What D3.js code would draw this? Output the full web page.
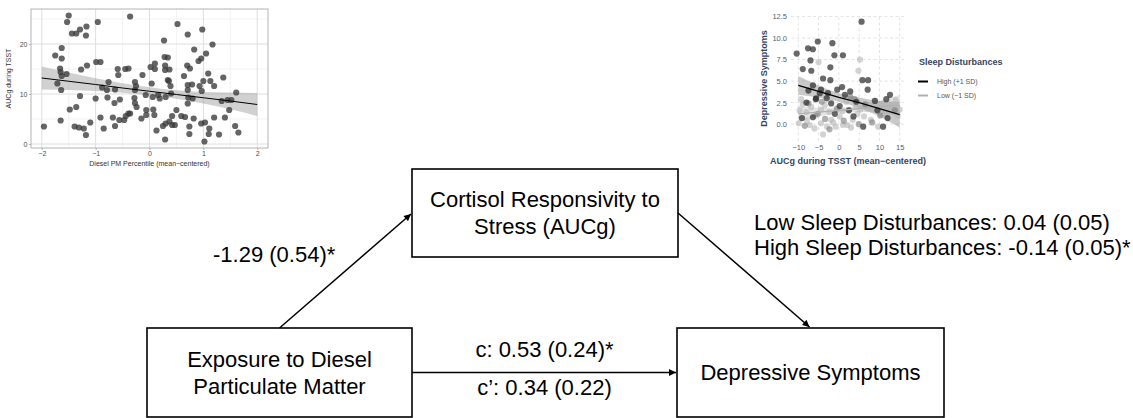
<!DOCTYPE html>
<html>
<head>
<meta charset="utf-8">
<script src="https://cdn.jsdelivr.net/npm/d3@7"></script>
<style>
  html, body { margin: 0; padding: 0; background: #fff; }
  svg { display: block; font-family: "Liberation Sans", Arial, Helvetica, sans-serif; }
</style>
</head>
<body>
<div id="chart"></div>
<script>
// ---- left scatter: diesel PM vs AUCg ----
var dieselX = [-1.96,-1.75,-1.71,-1.63,-1.63,-1.66,-1.65,-1.63,-1.64,-1.65,-1.54,-1.53,-1.50,-1.48,-1.44,-1.36,-1.36,-1.39,-1.29,-1.29,
  -1.31,-1.27,-1.17,-1.18,-1.16,-1.22,-1.18,-1.10,-0.99,-0.91,-0.96,-1.00,-0.91,-0.88,-0.85,-0.79,-0.76,-0.78,-0.68,-0.65,
  -0.64,-0.64,-0.59,-0.58,-0.56,-0.55,-0.47,-0.45,-0.39,-0.36,-0.44,-0.39,-0.36,-0.28,-0.27,-0.25,-0.27,-0.27,-0.24,-0.15,
  -0.13,-0.07,-0.06,-0.06,0.02,0.04,0.06,0.07,0.10,0.10,0.09,0.13,0.16,0.19,0.25,0.27,0.28,0.29,0.29,0.30,
  0.30,0.29,0.34,0.34,0.36,0.37,0.37,0.39,0.40,0.42,0.47,0.42,0.50,0.52,0.59,0.64,0.66,0.71,0.70,0.71,
  0.71,0.72,0.71,0.75,0.74,0.74,0.79,0.80,0.82,0.83,0.91,0.93,0.98,0.96,0.97,1.00,0.96,1.02,1.03,1.05,
  1.09,1.10,1.11,1.13,1.17,1.20,1.20,1.29,1.37,1.40,1.45,1.48,1.52,1.59,1.61,1.65,1.34];
var aucgY = [3.5,17.7,12.1,19.2,17.1,15.1,14.4,13.6,10.8,4.7,14.0,24.4,25.7,6.9,22.1,22.1,7.4,3.5,22.9,9.6,
  3.3,14.9,23.5,21.7,15.7,3.1,1.8,4.3,16.4,16.4,24.4,9.1,5.3,11.3,3.1,10.8,12.4,9.3,5.3,8.2,
  10.9,3.6,15.0,13.8,4.8,8.9,4.8,15.0,15.1,25.5,5.6,6.1,6.1,9.2,12.4,11.6,10.8,8.2,7.4,5.1,
  13.8,9.8,6.8,5.8,15.4,12.1,9.4,6.9,16.1,15.0,5.8,2.7,9.8,9.1,3.6,20.7,17.4,15.7,14.8,9.4,
  4.1,0.9,17.3,12.8,12.6,14.9,4.5,11.6,10.1,3.8,3.8,5.6,6.8,24.0,5.6,13.6,5.4,21.9,15.7,11.8,
  10.8,9.3,8.1,15.1,3.5,2.0,11.9,9.1,5.1,18.9,16.6,11.6,22.9,17.1,10.6,12.6,4.1,0.5,4.3,18.1,
  14.1,2.0,3.1,12.6,19.9,11.6,5.3,1.9,13.3,5.3,8.8,6.8,8.8,3.6,10.3,2.3,8.6];
var leftFitX = [-2, -1.5, -1, -0.5, 0, 0.5, 1, 1.5, 2];
var leftFit  = [13.2, 12.55, 11.9, 11.2, 10.55, 9.9, 9.25, 8.6, 7.9];
var leftLo   = [10.9, 10.8, 10.6, 10.25, 9.75, 9.05, 8.1, 6.95, 5.6];
var leftHi   = [15.5, 14.3, 13.15, 12.15, 11.35, 10.75, 10.4, 10.3, 10.2];
var leftXTicks = [-2, -1, 0, 1, 2];
var leftYTicks = [0, 10, 20];

// ---- right scatter: AUCg vs depressive symptoms by sleep disturbances ----
var highPts = [[-10.4,8.2],[-7.6,8.8],[-6.4,8.7],[-7.0,7.4],[-6.8,6.2],[-8.9,6.4],[-5.2,9.6],[-1.6,9.4],[-1.1,8.0],[1.0,8.0],
  [-2.1,6.6],[-3.9,5.3],[-2.1,5.1],[-6.4,4.5],[-7.5,3.9],[5.6,11.9],[5.8,5.1],[7.2,5.1],[7.1,4.0],[2.8,3.8],
  [0.8,4.3],[-0.4,4.0],[-4.4,4.0],[-2.7,3.6],[-5.6,3.0],[12.6,3.4],[11.7,2.9],[8.9,2.7],[4.3,2.6],[12.0,0.7],
  [10.9,-0.3],[6.0,-0.3],[-9.1,0.7],[-6.4,0.8],[-1.9,2.4],[0.2,2.1],[2.5,1.6],[-4.7,3.6],[-5.7,2.9],[-3.0,3.0],
  [1.5,3.4],[-8.0,2.5],[-1.0,1.2],[3.6,0.9],[9.5,1.6]];
var midPts = [[-7.5,2.4],[-5.2,1.2],[-3.4,0.6],[-0.5,1.8],[1.2,0.4],[3.9,2.9],[6.5,2.3],[8.2,0.2],[10.2,1.0],[-8.4,-0.2],
  [-2.3,-0.6],[4.9,0.0],[2.8,3.2],[-4.2,2.6],[13.8,1.6]];
var lowPts = [[-5.0,7.2],[5.2,7.5],[4.8,6.2],[-3.9,-1.2],[9.7,-0.3],[14.0,2.8],[15.0,1.7],[-8.9,2.3],[-9.7,1.6],[-8.0,1.4],
  [-9.9,0.1],[-7.2,-0.1],[-4.4,0.1],[-2.9,-0.3],[-0.8,-0.3],[1.0,-0.1],[2.1,-0.1],[3.4,0.5],[7.9,0.5],[4.6,1.2],
  [-6.8,2.0],[-4.4,1.7],[1.8,2.6],[4.2,2.0],[2.4,1.6],[-1.9,0.5],[0.2,0.9],[6.2,0.9],[8.7,2.7],[10.9,2.4],
  [13.0,2.0],[11.5,1.2],[-3.5,2.2],[-5.8,1.0],[-7.9,0.4],[0.9,1.5],[-2.4,1.4],[5.3,1.7],[7.0,1.8],[12.5,1.5],
  [-6.0,-0.5],[-1.4,0.2],[3.0,-0.4],[-9.3,2.9],[14.5,1.0]];
var fitAuc  = [-10, -5, 0, 5, 10, 15];
var highFit = [4.5, 3.8, 3.1, 2.5, 1.8, 1.1];
var highLo  = [3.4, 3.1, 2.6, 1.9, 0.9, -0.4];
var highHi  = [5.6, 4.5, 3.6, 3.1, 2.7, 2.6];
var lowFit  = [1.2, 1.4, 1.6, 1.8, 2.0, 2.2];
var lowLo   = [0.3, 0.9, 1.3, 1.4, 1.3, 1.0];
var lowHi   = [2.1, 1.9, 1.9, 2.2, 2.7, 3.4];
var rightXTicks = [-10, -5, 0, 5, 10, 15];
var rightYTicks = [0, 2.5, 5, 7.5, 10, 12.5];
var legendLabels = ["High (+1 SD)", "Low (\u22121 SD)"];

// ---- mediation diagram ----
var nodeLabels = {
  x: ["Exposure to Diesel", "Particulate Matter"],
  m: ["Cortisol Responsivity to", "Stress (AUCg)"],
  y: ["Depressive Symptoms"]
};
var pathA = "-1.29 (0.54)*";
var pathC = "c: 0.53 (0.24)*";
var pathCp = "c\u2019: 0.34 (0.22)";
var pathB = ["Low Sleep Disturbances: 0.04 (0.05)", "High Sleep Disturbances: -0.14 (0.05)*"];

var W = 1133, H = 418;
var svg = d3.select("#chart").append("svg").attr("width", W).attr("height", H);
svg.append("rect").attr("width", W).attr("height", H).attr("fill", "#fff");

var fmtMinus = function(d) { return String(d).replace("-", "\u2212"); };

// ================= left plot =================
(function() {
  var x = d3.scaleLinear().domain([-2.2, 2.2]).range([31, 268]);
  var y = d3.scaleLinear().domain([-0.8, 27]).range([148, 9]);
  var g = svg.append("g");

  // minor grid
  [-1.5, -0.5, 0.5, 1.5].forEach(function(v) {
    g.append("line").attr("x1", x(v)).attr("x2", x(v)).attr("y1", y.range()[0]).attr("y2", y.range()[1])
      .attr("stroke", "#ebebeb").attr("stroke-width", 0.6);
  });
  [5, 15, 25].forEach(function(v) {
    g.append("line").attr("y1", y(v)).attr("y2", y(v)).attr("x1", x.range()[0]).attr("x2", x.range()[1])
      .attr("stroke", "#ebebeb").attr("stroke-width", 0.6);
  });
  // major grid
  leftXTicks.forEach(function(v) {
    g.append("line").attr("x1", x(v)).attr("x2", x(v)).attr("y1", y.range()[0]).attr("y2", y.range()[1])
      .attr("stroke", "#dedede").attr("stroke-width", 1);
  });
  leftYTicks.forEach(function(v) {
    g.append("line").attr("y1", y(v)).attr("y2", y(v)).attr("x1", x.range()[0]).attr("x2", x.range()[1])
      .attr("stroke", "#dedede").attr("stroke-width", 1);
  });

  var band = d3.area()
    .x(function(d, i) { return x(leftFitX[i]); })
    .y0(function(d, i) { return y(leftLo[i]); })
    .y1(function(d, i) { return y(leftHi[i]); })
    .curve(d3.curveMonotoneX);
  g.append("path").datum(leftFitX).attr("d", band).attr("fill", "#999").attr("fill-opacity", 0.45);

  g.selectAll("circle.pt").data(dieselX).enter().append("circle")
    .attr("class", "pt")
    .attr("cx", function(d) { return x(d); })
    .attr("cy", function(d, i) { return y(aucgY[i]); })
    .attr("r", 3.1)
    .attr("fill", "#3a3a3a").attr("fill-opacity", 0.78);

  var line = d3.line()
    .x(function(d, i) { return x(leftFitX[i]); })
    .y(function(d, i) { return y(leftFit[i]); });
  g.append("path").datum(leftFitX).attr("d", line).attr("fill", "none").attr("stroke", "#000").attr("stroke-width", 1);

  g.append("rect").attr("x", 31).attr("y", 9).attr("width", 237).attr("height", 139)
    .attr("fill", "none").attr("stroke", "#b3b3b3").attr("stroke-width", 1);

  var xAxis = g.append("g").attr("transform", "translate(0,148)")
    .call(d3.axisBottom(x).tickValues(leftXTicks).tickSize(2).tickPadding(1.5).tickFormat(fmtMinus));
  var yAxis = g.append("g").attr("transform", "translate(31,0)")
    .call(d3.axisLeft(y).tickValues(leftYTicks).tickSize(2).tickPadding(1.5));
  [xAxis, yAxis].forEach(function(a) {
    a.select(".domain").remove();
    a.selectAll(".tick line").attr("stroke", "#b3b3b3");
    a.selectAll(".tick text").attr("fill", "#4d4d4d").style("font-size", "7px")
      .style("font-family", "Liberation Sans, Arial, sans-serif");
  });

  g.append("text").attr("x", 149.5).attr("y", 166).attr("text-anchor", "middle")
    .style("font-size", "7px").attr("fill", "#333").text("Diesel PM Percentile (mean\u2212centered)");
  g.append("text").attr("transform", "translate(11,78.5) rotate(-90)").attr("text-anchor", "middle")
    .style("font-size", "7px").attr("fill", "#333").text("AUCg during TSST");
})();

// ================= right plot =================
(function() {
  var x = d3.scaleLinear().domain([-11.8, 16.3]).range([791, 905]);
  var y = d3.scaleLinear().domain([-1.96, 12.56]).range([141, 16]);
  var g = svg.append("g");
  var slate = "#34465e";

  rightXTicks.forEach(function(v) {
    g.append("line").attr("x1", x(v)).attr("x2", x(v)).attr("y1", y.range()[0]).attr("y2", y.range()[1])
      .attr("stroke", "#dcdcdc").attr("stroke-width", 0.8).attr("stroke-dasharray", "3,2.5");
  });
  rightYTicks.forEach(function(v) {
    g.append("line").attr("y1", y(v)).attr("y2", y(v)).attr("x1", x.range()[0]).attr("x2", x.range()[1])
      .attr("stroke", "#dcdcdc").attr("stroke-width", 0.8).attr("stroke-dasharray", "3,2.5");
  });

  function band(lo, hi) {
    return d3.area()
      .x(function(d, i) { return x(fitAuc[i]); })
      .y0(function(d, i) { return y(lo[i]); })
      .y1(function(d, i) { return y(hi[i]); })
      .curve(d3.curveMonotoneX);
  }
  g.append("path").datum(fitAuc).attr("d", band(lowLo, lowHi)).attr("fill", "#bdbdbd").attr("fill-opacity", 0.4);
  g.append("path").datum(fitAuc).attr("d", band(highLo, highHi)).attr("fill", "#777").attr("fill-opacity", 0.4);

  function pts(data, fill, op) {
    g.append("g").selectAll("circle").data(data).enter().append("circle")
      .attr("cx", function(d) { return x(d[0]); })
      .attr("cy", function(d) { return y(d[1]); })
      .attr("r", 3.1).attr("fill", fill).attr("fill-opacity", op);
  }
  pts(lowPts, "#b5b5b5", 0.6);
  pts(midPts, "#7a7a7a", 0.6);
  pts(highPts, "#2e2e2e", 0.72);

  function fit(vals, col) {
    var l = d3.line().x(function(d, i) { return x(fitAuc[i]); }).y(function(d, i) { return y(vals[i]); });
    g.append("path").datum(fitAuc).attr("d", l).attr("fill", "none").attr("stroke", col).attr("stroke-width", 1.2);
  }
  fit(lowFit, "#b0b0b0");
  fit(highFit, "#000");

  var xAxis = g.append("g").attr("transform", "translate(0,141)")
    .call(d3.axisBottom(x).tickValues(rightXTicks).tickSize(0).tickPadding(4).tickFormat(fmtMinus));
  var yAxis = g.append("g").attr("transform", "translate(791,0)")
    .call(d3.axisLeft(y).tickValues(rightYTicks).tickSize(0).tickPadding(4).tickFormat(d3.format(".1f")));
  [xAxis, yAxis].forEach(function(a) {
    a.select(".domain").remove();
    a.selectAll(".tick text").attr("fill", "#55606f").style("font-size", "7.5px")
      .style("font-family", "Liberation Sans, Arial, sans-serif");
  });

  g.append("text").attr("x", 848).attr("y", 164).attr("text-anchor", "middle")
    .style("font-size", "9px").style("font-weight", "bold").attr("fill", slate)
    .text("AUCg during TSST (mean\u2212centered)");
  g.append("text").attr("transform", "translate(767,78.5) rotate(-90)").attr("text-anchor", "middle")
    .style("font-size", "9px").style("font-weight", "bold").attr("fill", slate)
    .text("Depressive Symptoms");

  // legend
  var lg = g.append("g").attr("transform", "translate(918,0)");
  lg.append("text").attr("x", 1).attr("y", 65).style("font-size", "9px").style("font-weight", "bold")
    .attr("fill", slate).text("Sleep Disturbances");
  var legCols = ["#000", "#b0b0b0"];
  legendLabels.forEach(function(lab, i) {
    var yy = 81.5 + i * 14;
    lg.append("line").attr("x1", 0).attr("x2", 10).attr("y1", yy).attr("y2", yy)
      .attr("stroke", legCols[i]).attr("stroke-width", 2);
    lg.append("text").attr("x", 19).attr("y", yy + 2.5).style("font-size", "7px").attr("fill", "#555").text(lab);
  });
})();

// ================= mediation diagram =================
(function() {
  var box = {
    x: { x: 147, y: 328, w: 265, h: 89 },
    m: { x: 412, y: 169, w: 266, h: 88 },
    y: { x: 677, y: 328, w: 267, h: 89 }
  };
  var fs = 22, lh = 27;
  var g = svg.append("g");

  var defs = svg.append("defs");
  defs.append("marker").attr("id", "ah").attr("viewBox", "0 0 10 10").attr("refX", 10).attr("refY", 5)
    .attr("markerWidth", 8).attr("markerHeight", 7).attr("markerUnits", "userSpaceOnUse").attr("orient", "auto")
    .append("path").attr("d", "M0,0 L10,5 L0,10 z").attr("fill", "#000");

  Object.keys(box).forEach(function(k) {
    var b = box[k];
    g.append("rect").attr("x", b.x).attr("y", b.y).attr("width", b.w).attr("height", b.h)
      .attr("fill", "#fff").attr("stroke", "#000").attr("stroke-width", 1.6);
    var lines = nodeLabels[k];
    var cx = b.x + b.w / 2, cy = b.y + b.h / 2;
    var first = cy + fs * 0.36 - (lines.length - 1) * lh / 2;
    lines.forEach(function(t, i) {
      g.append("text").attr("x", cx).attr("y", first + i * lh).attr("text-anchor", "middle")
        .style("font-size", fs + "px").attr("fill", "#000").text(t);
    });
  });

  function arrow(x1, y1, x2, y2) {
    g.append("line").attr("x1", x1).attr("y1", y1).attr("x2", x2).attr("y2", y2)
      .attr("stroke", "#000").attr("stroke-width", 1.5).attr("marker-end", "url(#ah)");
  }
  var X = box.x, M = box.m, Y = box.y;
  arrow(X.x + X.w / 2, X.y, M.x - 1, M.y + M.h / 2 + 1);
  arrow(M.x + M.w, M.y + M.h / 2, Y.x + Y.w / 2 - 1, Y.y - 1);
  arrow(X.x + X.w, X.y + X.h / 2, Y.x - 1, Y.y + Y.h / 2);

  g.append("text").attr("x", 213).attr("y", 262).style("font-size", fs + "px").text(pathA);
  var midC = (X.x + X.w + Y.x) / 2;
  g.append("text").attr("x", midC).attr("y", 357).attr("text-anchor", "middle").style("font-size", fs + "px").text(pathC);
  g.append("text").attr("x", midC).attr("y", 395).attr("text-anchor", "middle").style("font-size", fs + "px").text(pathCp);
  pathB.forEach(function(t, i) {
    g.append("text").attr("x", 754).attr("y", 230 + i * 25).style("font-size", fs + "px").text(t);
  });
})();
</script>
</body>
</html>
